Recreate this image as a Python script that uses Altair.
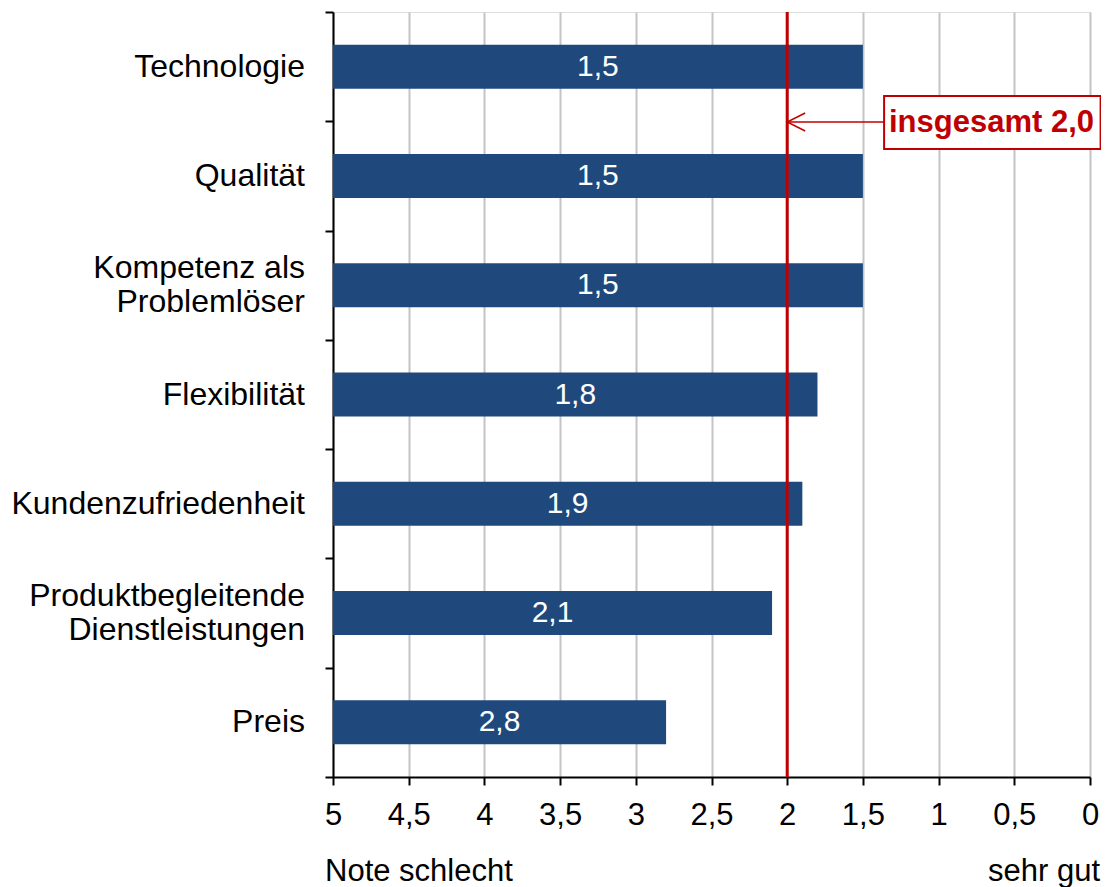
import altair as alt
import pandas as pd

categories = ["Technologie", "Qualität", "Kompetenz als|Problemlöser", "Flexibilität",
              "Kundenzufriedenheit", "Produktbegleitende|Dienstleistungen", "Preis"]
values = [1.5, 1.5, 1.5, 1.8, 1.9, 2.1, 2.8]
x_ticks = [5, 4.5, 4, 3.5, 3, 2.5, 2, 1.5, 1, 0.5, 0]
overall = 2.0
overall_label = "insgesamt 2,0"
left_title = "Note schlecht"
right_title = "sehr gut"

FONT = "Liberation Sans"
FS = 31
BLUE = "#1F497D"
RED = "#C00000"

df = pd.DataFrame({
    "cat": categories,
    "value": values,
    "label": [f"{v:.1f}".replace(".", ",") for v in values],
})
df["mid"] = (df["value"] + 5) / 2
df["multi"] = df["cat"].str.contains("|", regex=False)

xscale = alt.Scale(domain=[0, 5], reverse=True, nice=False, zero=False)
yscale = alt.Scale(paddingInner=0, paddingOuter=0)
ysort = categories

bars = alt.Chart(df).mark_bar(size=44, color=BLUE).encode(
    x=alt.X("value:Q", scale=xscale,
            axis=alt.Axis(values=x_ticks, title=None, grid=True, gridColor="#C4C4C4",
                          gridWidth=2, domainColor="black", domainWidth=2,
                          tickColor="black", tickWidth=2, tickSize=8,
                          labelFont=FONT, labelFontSize=FS, labelColor="black",
                          labelPadding=15, labelFlush=False,
                          labelExpr="replace(toString(datum.value), '.', ',')")),
    x2=alt.datum(5),
    y=alt.Y("cat:N", sort=ysort, scale=yscale,
            axis=alt.Axis(title=None, tickBand="extent", domainColor="black", domainWidth=2,
                          tickColor="black", tickWidth=2, tickSize=8, labels=False)),
)

bar_text = alt.Chart(df).mark_text(font=FONT, fontSize=30, color="white",
                                   baseline="middle", align="center").encode(
    x=alt.X("mid:Q", scale=xscale),
    y=alt.Y("cat:N", sort=ysort, scale=yscale),
    text="label:N",
)

ylab_single = alt.Chart(df).transform_filter("!datum.multi").mark_text(
    font=FONT, fontSize=32, color="black", align="right", baseline="middle"
).encode(
    x=alt.value(-28),
    y=alt.Y("cat:N", sort=ysort, scale=yscale),
    text="cat:N",
)
ylab_multi = alt.Chart(df).transform_filter("datum.multi").mark_text(
    font=FONT, fontSize=32, color="black", align="right", baseline="middle",
    lineBreak="|", lineHeight=34, dy=-17
).encode(
    x=alt.value(-28),
    y=alt.Y("cat:N", sort=ysort, scale=yscale),
    text="cat:N",
)

ref = pd.DataFrame({"v": [overall]})
red_line = alt.Chart(ref).mark_rule(color=RED, strokeWidth=3).encode(
    x=alt.X("v:Q", scale=xscale)
)

box_left = 1.36
box_right = -0.07
ann = pd.DataFrame({"x0": [overall], "x1": [box_left], "xr": [box_right],
                    "txt": [overall_label]})

arrow_line = alt.Chart(ann).mark_rule(color=RED, strokeWidth=1.5).encode(
    x=alt.X("x0:Q", scale=xscale), x2="x1:Q", y=alt.value(110)
)
arrow_head = alt.Chart(ann).mark_point(
    shape="M1,-0.5L0,0L1,0.5", filled=False, color=RED, strokeWidth=1.5, size=1296, opacity=1
).encode(x=alt.X("x0:Q", scale=xscale), y=alt.value(110))

box = alt.Chart(ann).mark_rect(fill="white", stroke=RED, strokeWidth=2).encode(
    x=alt.X("x1:Q", scale=xscale), x2="xr:Q", y=alt.value(84), y2=alt.value(137)
)
box_text = alt.Chart(ann).mark_text(font=FONT, fontSize=FS, fontWeight="bold", color=RED,
                                    align="center", baseline="middle").encode(
    x=alt.value((884 + 1099) / 2 - 333), y=alt.value(111), text="txt:N"
)

titles = pd.DataFrame({"x": [5, 0], "t": [left_title, right_title]})
t_left = alt.Chart(titles.iloc[[0]]).mark_text(font=FONT, fontSize=FS, color="black",
                                               align="left", baseline="middle", dx=-8).encode(
    x=alt.X("x:Q", scale=xscale), y=alt.value(860), text="t:N"
)
t_right = alt.Chart(titles.iloc[[1]]).mark_text(font=FONT, fontSize=FS, color="black",
                                                align="right", baseline="middle", dx=10).encode(
    x=alt.X("x:Q", scale=xscale), y=alt.value(860), text="t:N"
)

chart = alt.layer(bars, bar_text, ylab_single, ylab_multi, red_line, arrow_line, arrow_head,
                  box, box_text, t_left, t_right).properties(
    width=757, height=765,
    autosize=alt.AutoSizeParams(type="none"),
    padding={"left": 325, "top": 4, "right": 11, "bottom": 110},
).configure_view(stroke=None).configure(background="white")

chart.save("out.html", embed_options={"renderer": "svg", "actions": False})
